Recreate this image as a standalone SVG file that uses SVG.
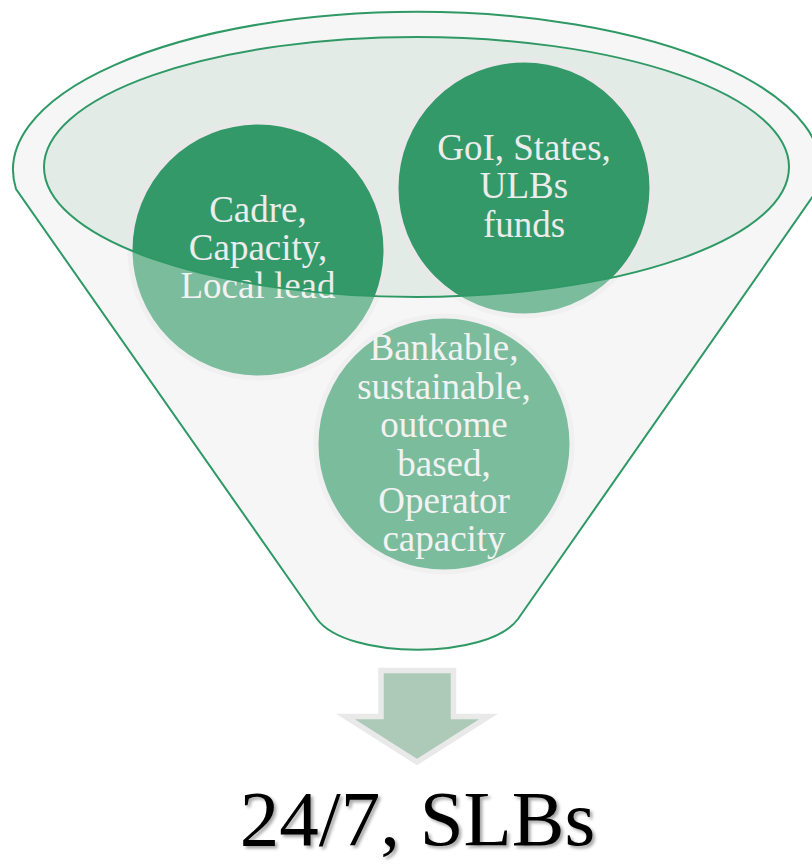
<svg xmlns="http://www.w3.org/2000/svg" width="812" height="864" viewBox="0 0 812 864">
  <style>
    .line { fill: none; stroke: #2f9966; stroke-width: 2; }
    .bubble { fill: #349968; stroke: #e8e8e8; stroke-width: 5; }
    .btxt { font-family: "Liberation Serif", "Times New Roman", serif; font-size: 37px; fill: #ececec; text-anchor: middle; }
    .result { font-family: "Liberation Serif", "Times New Roman", serif; font-size: 79px; fill: #000; text-anchor: middle; }
  </style>
  <defs>
    <filter id="shadow" x="-10%" y="-20%" width="120%" height="150%">
      <feDropShadow dx="2.5" dy="2.5" stdDeviation="1.5" flood-color="#000" flood-opacity="0.35"/>
    </filter>
  </defs>

  <!-- funnel base -->
  <g id="funnel">
    <path d="M 16 189 A 404 158 0 1 1 818 189 L 518 619 C 488 660 347 660 317 619 Z" fill="#f1f1f1"/>
    <ellipse cx="416.5" cy="167" rx="372.5" ry="130" fill="#e3ebe7"/>
  </g>

  <g id="node-cadre">
    <circle class="bubble" cx="258" cy="250" r="128"/>
    <text class="btxt" x="258" y="222">Cadre,</text>
    <text class="btxt" x="258" y="260">Capacity,</text>
    <text class="btxt" x="258" y="298">Local lead</text>
  </g>

  <g id="node-goi">
    <circle class="bubble" cx="524" cy="188" r="128"/>
    <text class="btxt" x="524" y="160">GoI, States,</text>
    <text class="btxt" x="524" y="198">ULBs</text>
    <text class="btxt" x="524" y="237">funds</text>
  </g>

  <g id="node-bankable">
    <circle class="bubble" cx="444" cy="444" r="128"/>
    <text class="btxt" x="444" y="360">Bankable,</text>
    <text class="btxt" x="444" y="399">sustainable,</text>
    <text class="btxt" x="444" y="437">outcome</text>
    <text class="btxt" x="444" y="476">based,</text>
    <text class="btxt" x="444" y="513">Operator</text>
    <text class="btxt" x="444" y="551">capacity</text>
  </g>

  <!-- translucent funnel body over the bubbles, with the mouth left open -->
  <g id="funnel-front">
    <path fill="#ffffff" fill-opacity="0.35" fill-rule="evenodd"
      d="M 16 189 A 404 158 0 1 1 818 189 L 518 619 C 488 660 347 660 317 619 Z
         M 44 167 A 372.5 130 0 1 0 789 167 A 372.5 130 0 1 0 44 167 Z"/>
    <ellipse class="line" cx="416.5" cy="167" rx="372.5" ry="130"/>
    <path class="line" d="M 16 189 A 404 158 0 1 1 818 189 L 518 619 C 488 660 347 660 317 619 Z"/>
  </g>

  <g id="connectors">
    <polygon points="381,670.5 453.5,670.5 453.5,716.5 488.5,716.5 417,762 345.5,716.5 381,716.5"
      fill="#adcab9" stroke="#e9e9e9" stroke-width="5.5" stroke-linejoin="miter"/>
  </g>

  <g id="node-result">
    <text class="result" x="417.5" y="845" filter="url(#shadow)">24/7, SLBs</text>
  </g>
</svg>
